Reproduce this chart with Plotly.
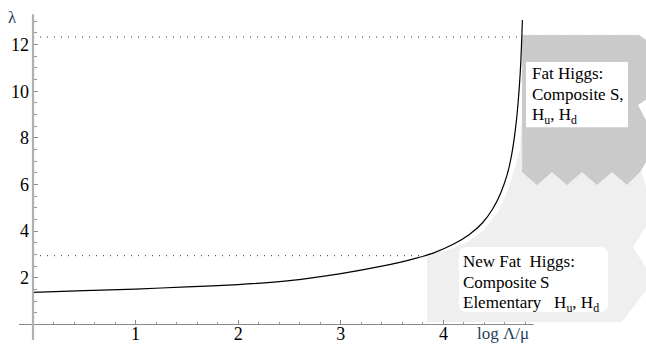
import plotly.graph_objects as go

# ---- data ----
log_scale = [0, 0.5, 1.0, 1.5, 2.0, 2.5, 3.0, 3.4, 3.7, 3.9, 4.1, 4.25, 4.38, 4.48,
             4.56, 4.62, 4.66, 4.70, 4.73, 4.755, 4.77]
lam = [1.38, 1.45, 1.52, 1.61, 1.71, 1.88, 2.18, 2.5, 2.8, 3.06, 3.45, 3.85, 4.35, 4.95,
       5.65, 6.4, 7.15, 8.3, 9.6, 11.3, 13.05]

upper_level = 12.32
upper_end = 4.76
lower_level = 2.95
lower_end = 3.84

x_ticks = [1, 2, 3, 4]
y_ticks = [2, 4, 6, 8, 10, 12]
x_minor = [round(0.2 * i, 1) for i in range(1, 25) if i % 5 != 0]
y_minor = [0.5 * i for i in range(1, 27) if i % 4 != 0]

# region outlines (data units)
dark_t = [4.766, 5.906, 6.05, 6.05, 5.897, 6.05, 6.05, 5.916, 5.789, 5.643, 5.497, 5.351,
          5.205, 5.058, 4.912, 4.766, 4.766]
dark_l = [12.41, 12.41, 11.98, 9.84, 9.41, 8.12, 7.48, 6.54, 5.98, 6.54, 5.98, 6.54,
          5.98, 6.54, 5.98, 6.54, 12.41]
light_t = [4.756, 4.747, 4.688, 4.630, 4.532, 4.396, 4.220, 4.016, 3.840, 3.840, 5.741,
           6.05, 5.848, 6.05, 5.916, 5.5, 4.756]
light_l = [8.55, 7.48, 6.62, 5.77, 4.82, 4.05, 3.49, 3.15, 3.02, 0.11, 0.11,
           1.91, 3.32, 4.74, 6.84, 8.5, 8.55]

SERIF = "Liberation Serif"
XR = [-0.3216, 5.9747]
YR = [-1.0073, 13.909]

fig = go.Figure()
fig.add_trace(go.Scatter(x=light_t, y=light_l, fill="toself", fillcolor="#efefef",
                         line=dict(width=0), mode="lines", hoverinfo="skip"))
fig.add_trace(go.Scatter(x=dark_t, y=dark_l, fill="toself", fillcolor="#cacaca",
                         line=dict(width=0), mode="lines", hoverinfo="skip"))
fig.add_trace(go.Scatter(x=[dark_t[-2], dark_t[0], dark_t[1]], y=[dark_l[-2], dark_l[0], dark_l[1]],
                         mode="lines", line=dict(color="#e4e4e4", width=1, dash="1px,2px"),
                         hoverinfo="skip"))
fig.add_trace(go.Scatter(x=[0, upper_end], y=[upper_level, upper_level], mode="lines",
                         line=dict(color="#333", width=1, dash="1px,6px"), hoverinfo="skip"))
fig.add_trace(go.Scatter(x=[0, lower_end], y=[lower_level, lower_level], mode="lines",
                         line=dict(color="#333", width=1, dash="1px,6px"), hoverinfo="skip"))
fig.add_trace(go.Scatter(x=log_scale, y=lam, mode="lines",
                         line=dict(color="black", width=1.2, shape="spline", smoothing=0.6),
                         hoverinfo="skip"))

fig.add_shape(type="line", x0=-0.136, x1=4.88, y0=0, y1=0, line=dict(color="#8a8a8a", width=1))
fig.add_shape(type="line", x0=0, x1=0, y0=-0.66, y1=13.3, line=dict(color="#b0b0b0", width=2.2))

fig.add_shape(type="rect", x0=4.805, x1=5.799, y0=8.46, y1=11.25,
              fillcolor="white", line=dict(width=0), layer="above")
bx0, bx1, by0, by1 = 4.152, 5.604, 0.54, 3.32
rx, ry = 0.08, 0.35
path = (f"M {bx0+rx},{by0} L {bx1-rx},{by0} Q {bx1},{by0} {bx1},{by0+ry} "
        f"L {bx1},{by1-ry} Q {bx1},{by1} {bx1-rx},{by1} L {bx0+rx},{by1} "
        f"Q {bx0},{by1} {bx0},{by1-ry} L {bx0},{by0+ry} Q {bx0},{by0} {bx0+rx},{by0} Z")
fig.add_shape(type="path", path=path, fillcolor="white", line=dict(width=0), layer="above")

txt = dict(family=SERIF, size=17, color="black")
fat_lines = ["Fat Higgs:", "Composite S,", "H<sub>u</sub>, H<sub>d</sub>"]
for i, s in enumerate(fat_lines):
    fig.add_annotation(x=4.845, y=10.78 - i * 0.93, text=s, showarrow=False,
                       xanchor="left", yanchor="middle", font=txt)
new_lines = ["New Fat\u00a0 Higgs:", "Composite\u2009S",
             "Elementary\u00a0\u00a0 H<sub>u</sub>, H<sub>d</sub>"]
for i, s in enumerate(new_lines):
    fig.add_annotation(x=4.17, y=2.72 - i * 0.92, text=s, showarrow=False,
                       xanchor="left", yanchor="middle", font=txt)

fig.add_annotation(x=-0.195, y=13.18, text="λ", showarrow=False, font=dict(family=SERIF, size=17))
fig.add_annotation(x=4.58, y=-0.38, text="log Λ/μ", showarrow=False,
                   font=dict(family=SERIF, size=17))

fig.update_layout(
    width=646, height=348, margin=dict(l=0, r=0, t=0, b=0),
    paper_bgcolor="white", plot_bgcolor="white", showlegend=False,
    font=dict(family=SERIF),
    xaxis=dict(range=XR, showgrid=False, zeroline=False, showline=False,
               tickvals=x_ticks, ticks="inside", ticklen=5, tickcolor="#8a8a8a",
               tickfont=dict(family=SERIF, size=18, color="black"),
               anchor="free", position=(348 - 324.5) / 348, ticklabelstandoff=-4,
               minor=dict(tickvals=x_minor, ticks="inside", ticklen=3, tickcolor="#9a9a9a")),
    yaxis=dict(range=YR, showgrid=False, zeroline=False, showline=False,
               tickvals=y_ticks, ticks="inside", ticklen=4, tickcolor="#8a8a8a",
               tickfont=dict(family=SERIF, size=18, color="black"),
               anchor="free", position=33 / 646, ticklabelstandoff=4,
               minor=dict(tickvals=y_minor, ticks="inside", ticklen=2.5, tickcolor="#9a9a9a")),
)
fig.write_html("out.html", config={"displayModeBar": False},
               post_script="document.body.style.margin='0';document.body.style.overflow='hidden';")
